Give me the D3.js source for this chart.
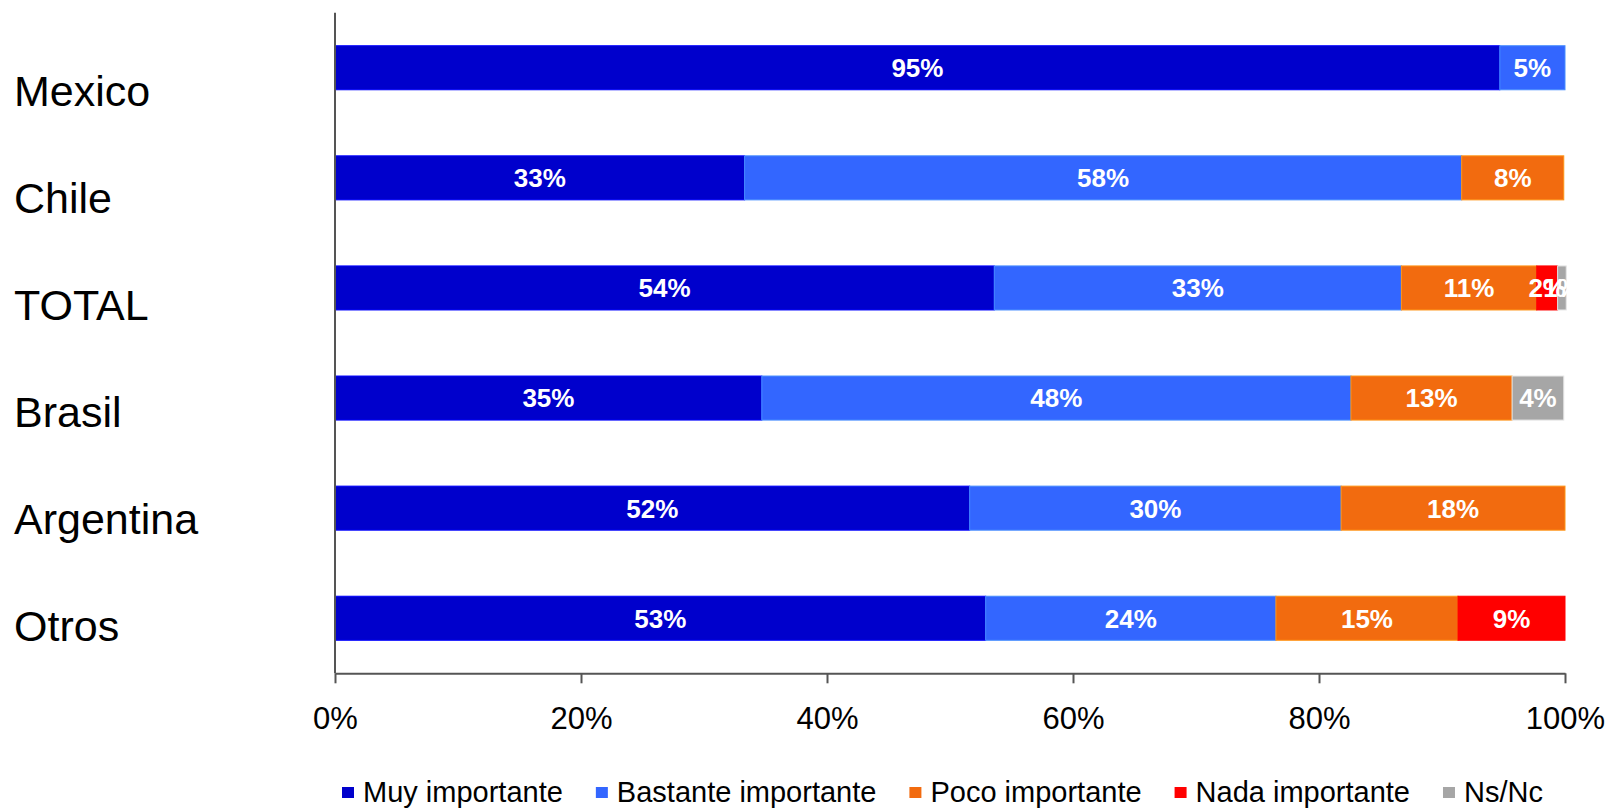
<!DOCTYPE html>
<html>
<head>
<meta charset="utf-8">
<script src="https://cdn.jsdelivr.net/npm/d3@7"></script>
<style>
  html, body { margin: 0; padding: 0; background: #ffffff; }
  svg { display: block; font-family: "Liberation Sans", Arial, sans-serif; }
</style>
</head>
<body>
<svg id="chart" width="1610" height="808"></svg>
<script>
const categories = ["Mexico", "Chile", "TOTAL", "Brasil", "Argentina", "Otros"];
const seriesNames = ["Muy importante", "Bastante importante", "Poco importante", "Nada importante", "Ns/Nc"];
const muyImportante      = [94.7, 33.3, 53.6, 34.7, 51.6, 52.9];
const bastanteImportante = [5.3, 58.3, 33.1, 47.9, 30.2, 23.6];
const pocoImportante     = [0, 8.3, 11.0, 13.1, 18.2, 14.8];
const nadaImportante     = [0, 0, 1.7, 0, 0, 8.7];
const nsNc               = [0, 0, 0.7, 4.2, 0, 0];
const tickValues = [0, 20, 40, 60, 80, 100];
const colors = ["#0000CC", "#3366FF", "#F26B0F", "#FF0000", "#A6A6A6"];

const seriesValues = [muyImportante, bastanteImportante, pocoImportante, nadaImportante, nsNc];
const rows = categories.map((c, i) => {
  const r = { category: c };
  seriesNames.forEach((s, j) => { r[s] = seriesValues[j][i]; });
  return r;
});

const svg = d3.select("#chart");
const x = d3.scaleLinear().domain([0, 100]).range([335, 1565]);
const y = d3.scaleBand().domain(categories).range([12.7, 673.3]).paddingInner(0.6).paddingOuter(0.3);
const labelY = d3.scalePoint().domain(categories).range([105.7, 641]);
const color = d3.scaleOrdinal().domain(seriesNames).range(colors);

const stacked = d3.stack().keys(seriesNames)(rows);

const layers = svg.append("g").selectAll("g")
  .data(stacked).join("g")
  .attr("fill", d => color(d.key))
  .attr("stroke", d => d3.color(color(d.key)).brighter(0.9).formatHex());

layers.selectAll("rect")
  .data(d => d.filter(p => p[1] - p[0] > 0))
  .join("rect")
  .attr("x", d => x(d[0]))
  .attr("y", d => y(d.data.category))
  .attr("width", d => x(d[1]) - x(d[0]))
  .attr("height", y.bandwidth())
  .attr("stroke-width", 1);

// value labels
const labelLayers = svg.append("g").selectAll("g").data(stacked).join("g");
labelLayers.selectAll("text")
  .data(d => d.filter(p => p[1] - p[0] > 0))
  .join("text")
  .attr("x", d => (x(d[0]) + x(d[1])) / 2)
  .attr("y", d => y(d.data.category) + y.bandwidth() / 2)
  .attr("dy", "0.36em")
  .attr("text-anchor", "middle")
  .attr("fill", "#ffffff")
  .attr("font-weight", "bold")
  .attr("font-size", 26)
  .text(d => Math.round(d[1] - d[0]) + "%");

// category labels
svg.append("g").selectAll("text")
  .data(categories).join("text")
  .attr("x", 14)
  .attr("y", d => labelY(d))
  .attr("font-size", 43)
  .attr("fill", "#000")
  .text(d => d);

// x axis
const xAxis = svg.append("g")
  .attr("transform", "translate(0,673.3)")
  .call(d3.axisBottom(x).tickValues(tickValues).tickFormat(d => d + "%").tickSizeInner(10).tickSizeOuter(0));
xAxis.select(".domain").attr("stroke", "#555").attr("stroke-width", 2);
xAxis.selectAll(".tick line").attr("stroke", "#555").attr("stroke-width", 2);
xAxis.selectAll(".tick text")
  .attr("y", 55.5).attr("dy", 0)
  .attr("font-size", 31)
  .attr("font-family", "\"Liberation Sans\", Arial, sans-serif")
  .attr("fill", "#000");

// y axis line
svg.append("line")
  .attr("x1", x(0)).attr("x2", x(0))
  .attr("y1", y.range()[0]).attr("y2", y.range()[1])
  .attr("stroke", "#555").attr("stroke-width", 2);

// legend
const legend = svg.append("g");
let lx = 342;
seriesNames.forEach((name, i) => {
  legend.append("rect")
    .attr("x", lx).attr("y", 787).attr("width", 12).attr("height", 11)
    .attr("fill", color(name));
  const t = legend.append("text")
    .attr("x", lx + 21).attr("y", 801.5)
    .attr("font-size", 29).attr("fill", "#000")
    .text(name);
  const w = t.node().getComputedTextLength();
  lx = lx + 21 + w + 33;
});
</script>
</body>
</html>
